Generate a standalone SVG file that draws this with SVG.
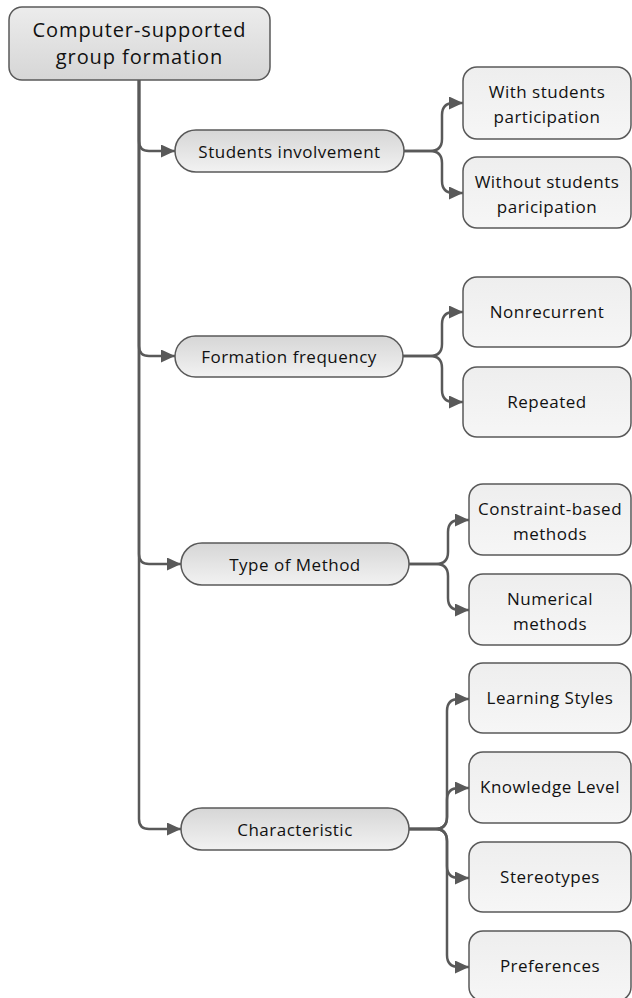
<svg xmlns="http://www.w3.org/2000/svg" width="632" height="998" viewBox="0 0 632 998">
<defs>
<linearGradient id="gRoot" x1="0" y1="0" x2="0" y2="1"><stop offset="0" stop-color="#ececec"/><stop offset="1" stop-color="#d6d6d6"/></linearGradient>
<linearGradient id="gMid" x1="0" y1="0" x2="0" y2="1"><stop offset="0" stop-color="#d6d6d6"/><stop offset="1" stop-color="#f2f2f2"/></linearGradient>
<linearGradient id="gLeaf" x1="0" y1="0" x2="0" y2="1"><stop offset="0" stop-color="#eeeeee"/><stop offset="1" stop-color="#f6f6f6"/></linearGradient>
<marker id="arr" markerUnits="userSpaceOnUse" markerWidth="15" markerHeight="13" refX="14" refY="6.5" orient="auto"><path d="M0,0 L14,6.5 L0,13 Z" fill="#595959"/></marker>
<style>
.root{fill:url(#gRoot);stroke:#595959;stroke-width:1.5}
.mid{fill:url(#gMid);stroke:#595959;stroke-width:1.5}
.leaf{fill:url(#gLeaf);stroke:#595959;stroke-width:1.5}
text{font-family:"Open Sans","Liberation Sans",sans-serif;fill:#111;text-anchor:middle}
.t1{font-size:20px;letter-spacing:0.9px}
.t2{font-size:17px;letter-spacing:0.5px}
.t3{font-size:17px;letter-spacing:0.5px}
.c{fill:none;stroke:#595959;stroke-width:2.5}
</style>
</defs>
<g id="connectors">
<path class="c" marker-end="url(#arr)" d="M139,80 V141 Q139,151 149,151 H175"/>
<path class="c" marker-end="url(#arr)" d="M139,80 V346 Q139,356 149,356 H175"/>
<path class="c" marker-end="url(#arr)" d="M139,80 V554 Q139,564 149,564 H181"/>
<path class="c" marker-end="url(#arr)" d="M139,80 V819 Q139,829 149,829 H181"/>
<path class="c" marker-end="url(#arr)" d="M404,151 H430 Q442,151 442,139 V115 Q442,103 454,103 H463"/>
<path class="c" marker-end="url(#arr)" d="M404,151 H430 Q442,151 442,163 V181 Q442,193 454,193 H463"/>
<path class="c" marker-end="url(#arr)" d="M403,356 H430 Q442,356 442,344 V324 Q442,312 454,312 H463"/>
<path class="c" marker-end="url(#arr)" d="M403,356 H430 Q442,356 442,368 V390 Q442,402 454,402 H463"/>
<path class="c" marker-end="url(#arr)" d="M409,564 H436 Q448,564 448,552 V532 Q448,520 460,520 H469"/>
<path class="c" marker-end="url(#arr)" d="M409,564 H436 Q448,564 448,576 V598 Q448,610 460,610 H469"/>
<path class="c" marker-end="url(#arr)" d="M409,829 H435 Q447,829 447,817 V711 Q447,699 459,699 H469"/>
<path class="c" marker-end="url(#arr)" d="M409,829 H435 Q447,829 447,817 V800 Q447,788 459,788 H469"/>
<path class="c" marker-end="url(#arr)" d="M409,829 H435 Q447,829 447,841 V866 Q447,878 459,878 H469"/>
<path class="c" marker-end="url(#arr)" d="M409,829 H435 Q447,829 447,841 V955 Q447,967 459,967 H469"/>
</g>
<g id="root"><rect class="root" x="9" y="7" width="261" height="73" rx="13"/><text class="t1" x="139.5" y="37">Computer-supported</text><text class="t1" x="139.5" y="64">group formation</text></g>
<g id="students-involvement"><rect class="mid" x="175" y="130" width="229" height="42" rx="21"/><text class="t2" x="289.5" y="157.5">Students involvement</text></g>
<g id="with-students"><rect class="leaf" x="463" y="67" width="168" height="72" rx="14"/><text class="t3" x="547" y="98">With students</text><text class="t3" x="547" y="123">participation</text></g>
<g id="without-students"><rect class="leaf" x="463" y="157" width="168" height="71" rx="14"/><text class="t3" x="547" y="188">Without students</text><text class="t3" x="547" y="213">paricipation</text></g>
<g id="formation-frequency"><rect class="mid" x="175" y="336" width="228" height="41" rx="20.5"/><text class="t2" x="289" y="362.5">Formation frequency</text></g>
<g id="nonrecurrent"><rect class="leaf" x="463" y="277" width="168" height="70" rx="14"/><text class="t3" x="547" y="318">Nonrecurrent</text></g>
<g id="repeated"><rect class="leaf" x="463" y="367" width="168" height="70" rx="14"/><text class="t3" x="547" y="408">Repeated</text></g>
<g id="type-of-method"><rect class="mid" x="181" y="543" width="228" height="42" rx="21"/><text class="t2" x="295" y="570.5">Type of Method</text></g>
<g id="constraint-based"><rect class="leaf" x="469" y="484" width="162" height="71" rx="14"/><text class="t3" x="550" y="515">Constraint-based</text><text class="t3" x="550" y="540">methods</text></g>
<g id="numerical"><rect class="leaf" x="469" y="574" width="162" height="71" rx="14"/><text class="t3" x="550" y="605">Numerical</text><text class="t3" x="550" y="630">methods</text></g>
<g id="characteristic"><rect class="mid" x="181" y="808" width="228" height="42" rx="21"/><text class="t2" x="295" y="835.5">Characteristic</text></g>
<g id="learning-styles"><rect class="leaf" x="469" y="663" width="162" height="70" rx="14"/><text class="t3" x="550" y="704">Learning Styles</text></g>
<g id="knowledge-level"><rect class="leaf" x="469" y="752" width="162" height="71" rx="14"/><text class="t3" x="550" y="793">Knowledge Level</text></g>
<g id="stereotypes"><rect class="leaf" x="469" y="842" width="162" height="70" rx="14"/><text class="t3" x="550" y="883">Stereotypes</text></g>
<g id="preferences"><rect class="leaf" x="469" y="931" width="162" height="70" rx="14"/><text class="t3" x="550" y="972">Preferences</text></g>
</svg>
